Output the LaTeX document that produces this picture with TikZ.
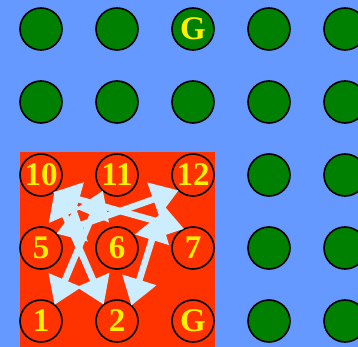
\documentclass[tikz,border=0pt]{standalone}
\usepackage{fontspec}
\setmainfont{Liberation Serif}
\usetikzlibrary{positioning,arrows.meta}
\definecolor{skyback}{RGB}{102,153,255}
\definecolor{redzone}{RGB}{255,51,0}
\definecolor{discgreen}{RGB}{0,128,0}
\definecolor{moveblue}{RGB}{204,236,255}

\begin{document}
\begin{tikzpicture}[
  x=1pt, y=1pt,
  node distance=31pt and 34pt,
  disc/.style={
    circle, draw=black, line width=1.6pt, fill=discgreen,
    minimum size=42pt, inner sep=0pt, outer sep=0pt,
    text=yellow, font=\fontsize{33}{33}\selectfont\bfseries
  },
  cell/.style={disc, fill=none},
  move/.style={
    >={Triangle[length=27pt,width=34pt]}, <->,
    line width=6.5pt, draw=moveblue
  }
]

\fill[skyback] (0,0) rectangle (358,-347);
\useasboundingbox (0,0) rectangle (358,-347);
\fill[redzone] (20,-152) rectangle (215,-347);

% top rows
\node[disc] (r1c1) at (41,-29) {};
\node[disc, right=of r1c1] (r1c2) {};
\node[disc, right=of r1c2] (gtop) {G};
\node[disc, right=of gtop] (r1c4) {};
\node[disc, right=of r1c4] (r1c5) {};

\node[disc, below=of r1c1] (r2c1) {};
\node[disc, right=of r2c1] (r2c2) {};
\node[disc, right=of r2c2] (r2c3) {};
\node[disc, right=of r2c3] (r2c4) {};
\node[disc, right=of r2c4] (r2c5) {};

% red block
\node[cell, below=of r2c1] (n10) {10};
\node[cell, right=of n10] (n11) {11};
\node[cell, right=of n11] (n12) {12};
\node[disc, right=of n12] (r3c4) {};
\node[disc, right=of r3c4] (r3c5) {};

\node[cell, below=of n10] (n5) {5};
\node[cell, right=of n5] (n6) {6};
\node[cell, right=of n6] (n7) {7};
\node[disc, right=of n7] (r4c4) {};
\node[disc, right=of r4c4] (r4c5) {};

\node[cell, below=of n5] (n1) {1};
\node[cell, right=of n1] (n2) {2};
\node[cell, right=of n2] (gbot) {G};
\node[disc, right=of gbot] (r5c4) {};
\node[disc, right=of r5c4] (r5c5) {};

% moves
\coordinate (turn2) at (160,-214);
\draw[move] (n1.50) -- (n11.228);
\draw[move] (n2.129) -- (n10.310);
\draw[move] (n5.43) -- (n12.227);
\draw[move] (n10.305) -- (n7.115);
\draw[move] (n2.47) -- (turn2);

\end{tikzpicture}
\end{document}
